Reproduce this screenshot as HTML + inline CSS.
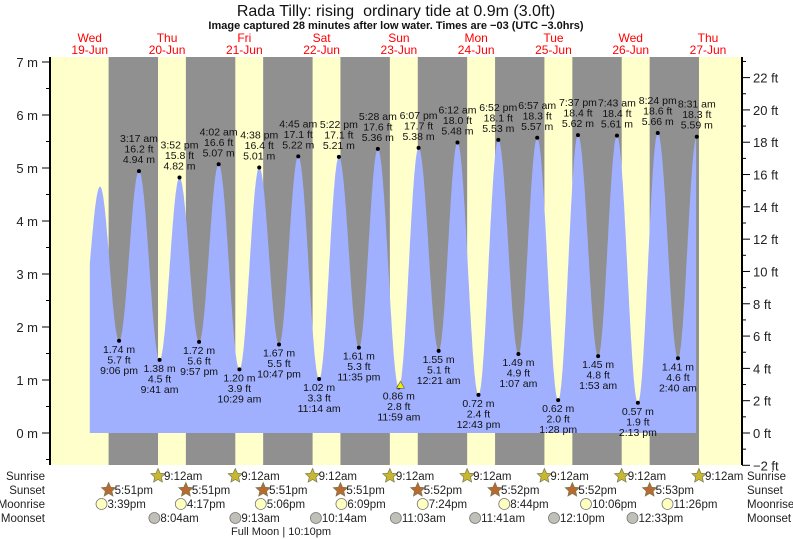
<!DOCTYPE html>
<html><head><meta charset="utf-8"><style>
body{margin:0;background:#fff;}
svg{display:block;font-family:"Liberation Sans",sans-serif;}
</style></head><body>
<svg id="s" width="793" height="539" xmlns="http://www.w3.org/2000/svg"></svg>
<script>
const S=document.getElementById('s');
let h='';
const X0=128.4,PH=3.22;
const Y0=433,PM=53.0;
const x=t=>X0+t*PH; const y=m=>Y0-m*PM;
const L=50,R=742,T=57,B=465;
h+=`<rect x="${L}" y="${T}" width="${R-L}" height="${B-T}" fill="#ffffcc"/>`;
const sunset=[17.85,17.85,17.85,17.85,17.87,17.87,17.87,17.88];
for(let d=-1;d<7;d++){const a=x(d*24+sunset[d+1]),b=x((d+1)*24+9.2);
h+=`<rect x="${a}" y="${T}" width="${b-a}" height="${B-T}" fill="#909090"/>`;}
const E=[[-1,8.9,1.8,null],[-1,15.2,4.65,null],
[-1,21.1,1.74,'9:06 pm'],[0,3.28,4.94,'3:17 am'],[0,9.68,1.38,'9:41 am'],[0,15.87,4.82,'3:52 pm'],[0,21.95,1.72,'9:57 pm'],
[1,4.03,5.07,'4:02 am'],[1,10.48,1.20,'10:29 am'],[1,16.63,5.01,'4:38 pm'],[1,22.78,1.67,'10:47 pm'],
[2,4.75,5.22,'4:45 am'],[2,11.23,1.02,'11:14 am'],[2,17.37,5.21,'5:22 pm'],[2,23.58,1.61,'11:35 pm'],
[3,5.47,5.36,'5:28 am'],[3,11.98,0.86,'11:59 am'],[3,18.12,5.38,'6:07 pm'],
[4,0.35,1.55,'12:21 am'],[4,6.2,5.48,'6:12 am'],[4,12.72,0.72,'12:43 pm'],[4,18.87,5.53,'6:52 pm'],
[5,1.12,1.49,'1:07 am'],[5,6.95,5.57,'6:57 am'],[5,13.47,0.62,'1:28 pm'],[5,19.62,5.62,'7:37 pm'],
[6,1.88,1.45,'1:53 am'],[6,7.72,5.61,'7:43 am'],[6,14.22,0.57,'2:13 pm'],[6,20.4,5.66,'8:24 pm'],
[7,2.67,1.41,'2:40 am'],[7,8.52,5.59,'8:31 am'],[7,14.7,1.5,null]];
const P=E.map(e=>[e[0]*24+e[1],e[2]]);
function val(t){for(let i=0;i<P.length-1;i++){if(t>=P[i][0]&&t<=P[i+1][0]){const f=(t-P[i][0])/(P[i+1][0]-P[i][0]);return P[i][1]+(P[i+1][1]-P[i][1])*(1-Math.cos(Math.PI*f))/2;}}return 0;}
const t0=-12,t1=7*24+8.3;
let d=`M${x(t0)},${Y0}`;
for(let t=t0;t<=t1;t+=0.1)d+=` L${x(t).toFixed(1)},${y(val(t)).toFixed(1)}`;
d+=` L${x(t1)},${Y0} Z`;
h+=`<path d="${d}" fill="#a0b0ff"/>`;
E.forEach((e,i)=>{if(!e[3])return;const t=e[0]*24+e[1],px=x(t),py=y(e[2]);
const ft=(e[2]/0.3048).toFixed(1)+' ft',m=e[2].toFixed(2)+' m';
h+=`<circle cx="${px}" cy="${py}" r="2" fill="#000"/>`;
const hi=e[2]>3;
const lines=hi?[e[3],ft,m]:[m,ft,e[3]];
lines.forEach((s,k)=>{const yy=hi?py-29+k*10.5:py+12+k*10.5;
h+=`<text x="${px}" y="${yy}" font-size="10.5" text-anchor="middle" fill="#111">${s}</text>`;});});
h+=`<polygon points="${x(84.5)-4},${y(0.9)+3} ${x(84.5)+4},${y(0.9)+3} ${x(84.5)},${y(0.9)-4}" fill="#ee0" stroke="#666" stroke-width="0.7"/>`;
h+=`<line x1="${L}" y1="${T}" x2="${L}" y2="${B}" stroke="#000" stroke-width="2"/>`;
h+=`<line x1="${R}" y1="${T}" x2="${R}" y2="${B}" stroke="#000" stroke-width="2"/>`;
for(let m=-0.5;m<=7;m+=0.5){const yy=y(m);if(yy<T-1||yy>B)continue;const maj=Number.isInteger(m);
h+=`<line x1="${L-(maj?8:4)}" y1="${yy}" x2="${L}" y2="${yy}" stroke="#000"/>`;
if(maj)h+=`<text x="38" y="${yy+5}" font-size="13" text-anchor="end" fill="#222">${m} m</text>`;}
for(let f=-2;f<=23;f++){const yy=Y0-f*0.3048*PM;if(yy<T-1||yy>B+1)continue;const maj=f%2==0;
h+=`<line x1="${R}" y1="${yy}" x2="${R+(maj?8:4)}" y2="${yy}" stroke="#000"/>`;
if(maj)h+=`<text x="753" y="${yy+5}" font-size="13" fill="#222">${f<0?'−'+(-f):f} ft</text>`;}
h+=`<text x="396" y="16" font-size="16" text-anchor="middle" fill="#111">Rada Tilly: rising&#160; ordinary tide at 0.9m (3.0ft)</text>`;
h+=`<text x="396" y="29" font-size="11" font-weight="bold" text-anchor="middle" fill="#111">Image captured 28 minutes after low water. Times are −03 (UTC −3.0hrs)</text>`;
const days=['Wed','Thu','Fri','Sat','Sun','Mon','Tue','Wed','Thu'];
days.forEach((n,i)=>{const cx=x((i-1)*24+12);
h+=`<text x="${cx}" y="42" font-size="12" text-anchor="middle" fill="#f00">${n}</text><text x="${cx}" y="54" font-size="12" text-anchor="middle" fill="#f00">${19+i}-Jun</text>`;});
const rows=[['Sunrise',480],['Sunset',494],['Moonrise',508],['Moonset',522]];
rows.forEach(r=>{h+=`<text x="45" y="${r[1]}" font-size="11.5" text-anchor="end" fill="#222">${r[0]}</text><text x="747" y="${r[1]}" font-size="11.5" fill="#222">${r[0]}</text>`;});
function star(cx,cy,fill){let p='';for(let k=0;k<10;k++){const a=-Math.PI/2+k*Math.PI/5,r=k%2?3.5:7.5;p+=(cx+r*Math.cos(a)).toFixed(1)+','+(cy+r*Math.sin(a)).toFixed(1)+' ';}return `<polygon points="${p}" fill="${fill}" stroke="#775" stroke-width="0.7"/>`;}
function ev(t,row,label,kind){const cx=x(t),cy=row-4;
if(kind=='sr')h+=star(cx,cy,'#c8b830');else if(kind=='ss')h+=star(cx,cy,'#b86a30');
else h+=`<circle cx="${cx}" cy="${cy}" r="5.5" fill="${kind=='mr'?'#ffffc0':'#c0c0b8'}" stroke="#777" stroke-width="0.8"/>`;
h+=`<text x="${cx+6}" y="${row}" font-size="11.5" fill="#222">${label}</text>`;}
for(let i=0;i<8;i++)ev(i*24+9.2,480,'9:12am','sr');
sunset.forEach((s,i)=>ev((i-1)*24+s,494,(s>17.86?(s>17.875?'5:53pm':'5:52pm'):'5:51pm'),'ss'));
const mr=[[15.65,'3:39pm'],[16.28,'4:17pm'],[17.1,'5:06pm'],[18.15,'6:09pm'],[19.4,'7:24pm'],[20.73,'8:44pm'],[22.1,'10:06pm'],[23.43,'11:26pm']];
mr.forEach((m,i)=>ev((i-1)*24+m[0],508,m[1],'mr'));
const ms=[[8.07,'8:04am'],[9.22,'9:13am'],[10.23,'10:14am'],[11.05,'11:03am'],[11.68,'11:41am'],[12.17,'12:10pm'],[12.55,'12:33pm']];
ms.forEach((m,i)=>ev(i*24+m[0],522,m[1],'ms'));
h+=`<text x="231" y="535" font-size="11" fill="#222">Full Moon | 10:10pm</text>`;
S.innerHTML=h;
</script>
</body></html>
